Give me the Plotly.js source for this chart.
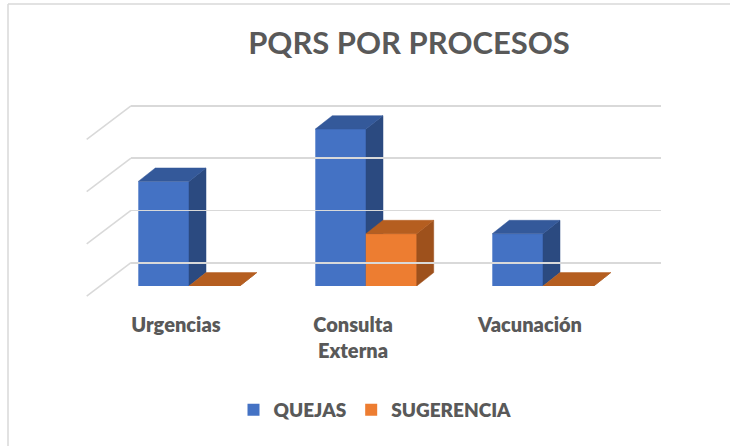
<!DOCTYPE html>
<html><head><meta charset="utf-8">
<script src="https://cdn.plot.ly/plotly-3.0.1.min.js"></script>
<style>html,body{margin:0;padding:0;background:#fff}#chart{width:730px;height:446px}</style>
</head><body><div id="chart"></div>
<script>
// ---- data ----
const categories = ['Urgencias', 'Consulta Externa', 'Vacunación'];
const tickLabels = ['Urgencias', 'Consulta<br>Externa', 'Vacunación'];
const quejas = [2, 3, 1];
const sugerencia = [0, 1, 0];
const seriesNames = ['QUEJAS', 'SUGERENCIA'];
const yTicks = [0, 1, 2, 3];

// ---- geometry helpers ----
const W = 730, H = 446;
const px = x => x / W;
const py = y => 1 - y / H;
const unit = 52.3;            // px per value unit
const yMax = 3.556;
const yMin2 = -0.8;
const bargap = 0.427;
const bw = (1 - bargap) / 2;
const ddx = 17 / 177, ddy = 13.4 / unit;   // depth offset in data units
const xIdx = categories.map((c, i) => i);

function faces(vals, side, kind) {
  const xs = [], ys = [];
  vals.forEach((v, i) => {
    const xl = side === 0 ? i - bw : i;
    const xr = xl + bw;
    let pts;
    if (kind === 'front') pts = [[xl, 0], [xr, 0], [xr, v], [xl, v]];
    else if (kind === 'side') pts = [[xr, 0], [xr + ddx, ddy], [xr + ddx, v + ddy], [xr, v]];
    else pts = [[xl, v], [xr, v], [xr + ddx, v + ddy], [xl + ddx, v + ddy]];
    pts.push(pts[0]);
    pts.forEach(p => { xs.push(p[0]); ys.push(p[1]); });
    xs.push(null); ys.push(null);
  });
  return {xs, ys};
}
function poly(vals, side, kind, color) {
  const f = faces(vals, side, kind);
  return {
    type: 'scatter', mode: 'lines', x: f.xs, y: f.ys, fill: 'toself', fillcolor: color,
    line: {color: color, width: 0.5}, showlegend: false, hoverinfo: 'skip', xaxis: 'x', yaxis: 'y'
  };
}

const blue = '#4472C4', blueTop = '#34599A', blueSide = '#2B4A80';
const orange = '#ED7D31', orangeTop = '#B55E20', orangeSide = '#9E511C';

const traces = [
  {type: 'scatter', x: [0], y: [0], mode: 'markers', marker: {opacity: 0}, xaxis: 'x2', yaxis: 'y2', showlegend: false, hoverinfo: 'skip'},
  {type: 'bar', name: seriesNames[0], x: xIdx, y: quejas, marker: {color: blue, line: {width: 0}}},
  {type: 'bar', name: seriesNames[1], x: xIdx, y: sugerencia, marker: {color: orange, line: {width: 0}}},
  poly(quejas, 0, 'side', blueSide),
  poly(quejas, 0, 'top', blueTop),
  poly(sugerencia, 1, 'front', orange),
  poly(sugerencia, 1, 'side', orangeSide),
  poly(sugerencia, 1, 'top', orangeTop)
];

const grid = '#D9D9D9';
const shapes = yTicks.map(v => ({
  type: 'line', xref: 'paper', yref: 'y2',
  x0: px(86.7), y0: v - 33.5 / unit, x1: px(131), y1: v,
  line: {color: grid, width: 1.6}
}));
shapes.push({type: 'line', xref: 'paper', yref: 'paper', x0: px(8), y0: py(4), x1: 1, y1: py(4), line: {color: grid, width: 1.5}});
shapes.push({type: 'line', xref: 'paper', yref: 'paper', x0: px(8), y0: py(4), x1: px(8), y1: 0, line: {color: grid, width: 1.5}});

const txt = '#595959';
const layout = {
  width: W, height: H,
  margin: {l: 0, r: 0, t: 0, b: 0},
  paper_bgcolor: '#ffffff', plot_bgcolor: 'rgba(0,0,0,0)',
  font: {family: 'Lato, "Open Sans", sans-serif', color: txt},
  hovermode: false,
  barmode: 'group', bargap: bargap, bargroupgap: 0,
  title: {
    text: 'PQRS POR PROCESOS', xref: 'paper', yref: 'paper',
    x: px(409), xanchor: 'center', y: py(43), yanchor: 'middle',
    font: {family: 'Lato', size: 31, weight: 700, color: txt}
  },
  xaxis: {
    domain: [px(100.5), px(631.5)], range: [-0.5, 2.5], anchor: 'y',
    tickvals: xIdx, ticktext: tickLabels, ticks: '', showgrid: false, zeroline: false, showline: false,
    ticklabelshift: -13, ticklabelstandoff: 25,
    tickfont: {family: 'Lato', size: 20, weight: 800, color: txt}
  },
  yaxis: {
    domain: [py(286), py(100)], range: [0, yMax], anchor: 'x',
    showgrid: false, zeroline: false, showline: false, showticklabels: false, ticks: ''
  },
  xaxis2: {
    domain: [px(131), px(661)], range: [0, 1], anchor: 'y2',
    showgrid: false, zeroline: false, showline: false, showticklabels: false, ticks: ''
  },
  yaxis2: {
    domain: [py(262.7 + (-yMin2) * unit), py(262.7 - yMax * unit)], range: [yMin2, yMax], anchor: 'x2',
    tickmode: 'array', tickvals: yTicks,
    showgrid: true, gridcolor: grid, gridwidth: 1.6, zeroline: false, showline: false, showticklabels: false, ticks: ''
  },
  legend: {
    orientation: 'h', x: px(375), xanchor: 'center', y: py(410), yanchor: 'middle',
    font: {family: 'Lato', size: 19, weight: 800, color: txt},
    itemwidth: 30, bgcolor: 'rgba(0,0,0,0)'
  },
  shapes: shapes
};

Plotly.newPlot('chart', traces, layout, {displayModeBar: false, staticPlot: true});
</script>
</body></html>
